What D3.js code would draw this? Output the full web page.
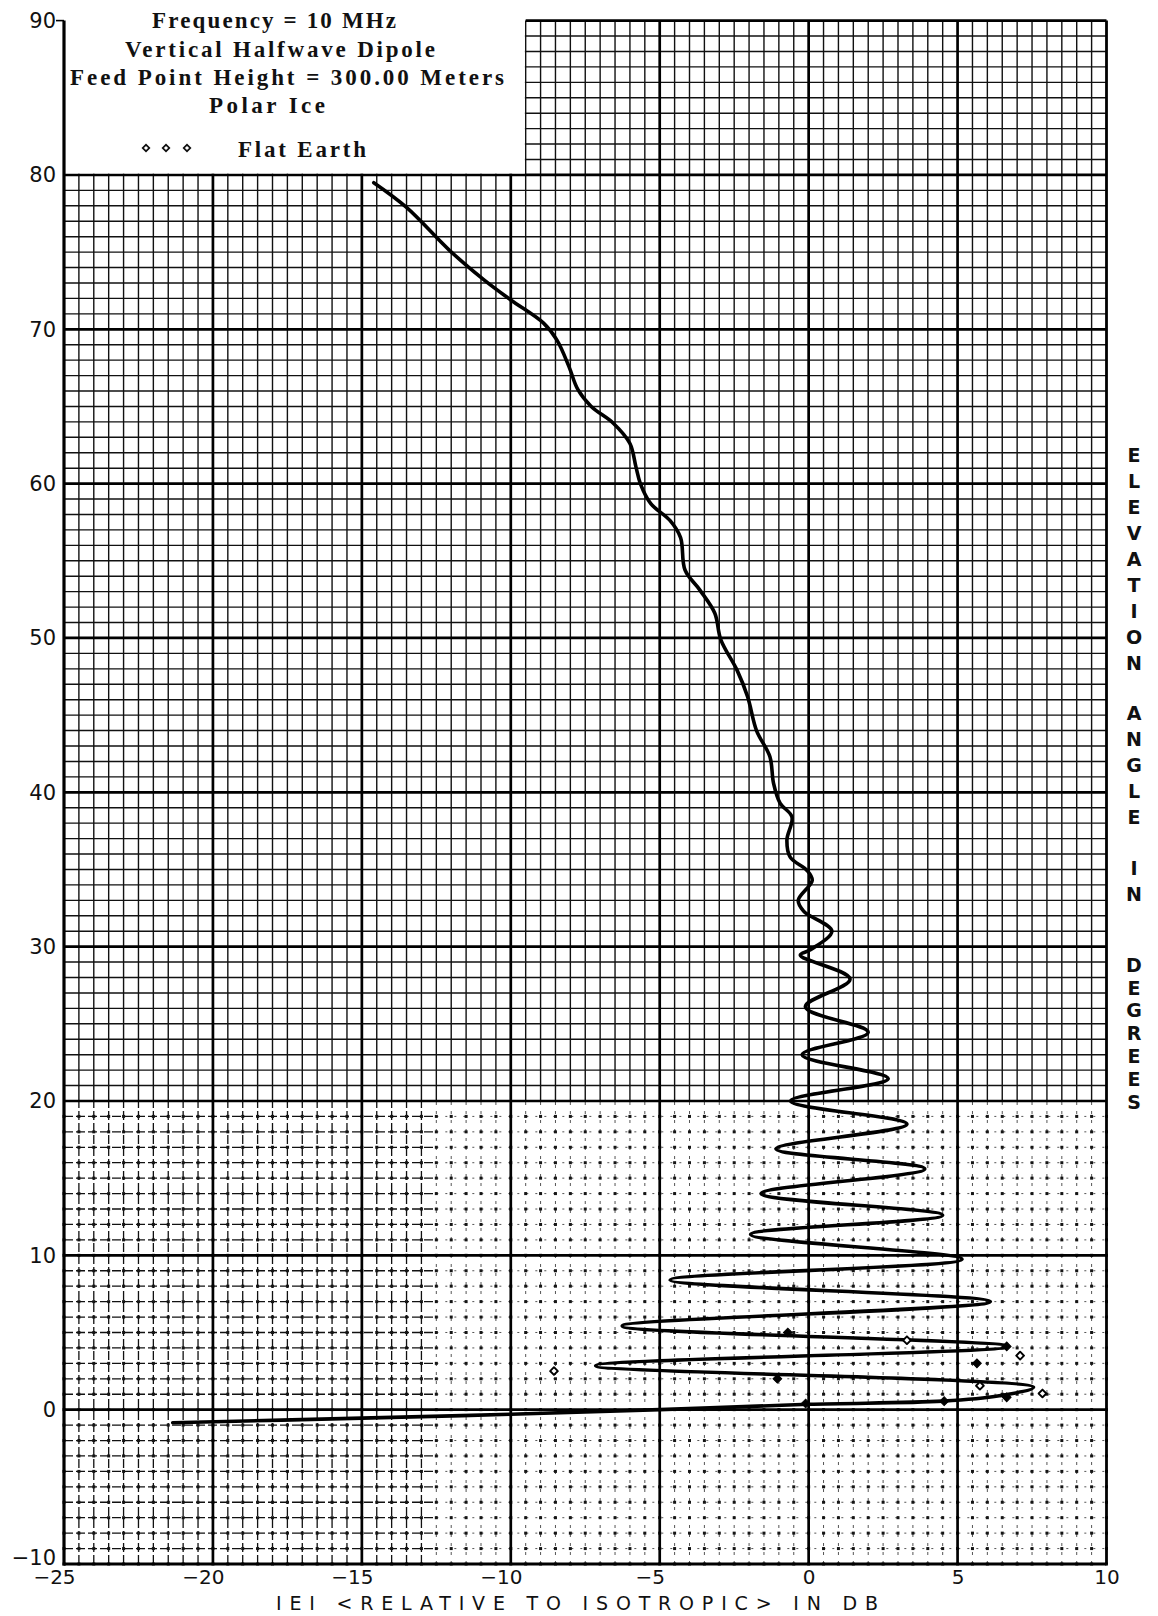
<!DOCTYPE html>
<html><head><meta charset="utf-8">
<script src="https://cdn.jsdelivr.net/npm/d3@7"></script>
<style>html,body{margin:0;padding:0;background:#fff}svg{display:block}</style>
</head><body>
<svg id="chart" width="1158" height="1616"></svg>
<script>
// ---------------- data ----------------
const xTicks = [-25, -20, -15, -10, -5, 0, 5, 10];
const xTickLabels = ["\u221225", "\u221220", "\u221215", "\u221210", "\u22125", "0", "5", "10"];
const yTicks = [90, 80, 70, 60, 50, 40, 30, 20, 10, 0, -10];
const yTickLabels = ["90", "80", "70", "60", "50", "40", "30", "20", "10", "0", "\u221210"];
const titleLines = ["Frequency = 10 MHz", "Vertical Halfwave Dipole", "Feed Point Height = 300.00 Meters", "Polar Ice"];
const legendLabel = "Flat Earth";
const xAxisTitle = "IEI <RELATIVE TO ISOTROPIC> IN DB";
const yAxisTitle = "ELEVATION ANGLE IN DEGREES";

// computed pattern |E| (dB) and elevation angle (deg), in drawing order
const curveGain = [-14.6, -13.5, -12.05, -10.9, -10.0, -8.9, -8.45, -8.05, -7.75, -7.3, -6.55, -6.0, -5.8, -5.65,
  -5.3, -4.65, -4.3, -4.15, -3.65, -3.15, -2.95, -2.4, -2.05, -1.75, -1.3, -1.18, -0.96, -0.56, -0.73, -0.62,
  -0.06, 0.12, -0.35, -0.17, 0.78, 0.06, -0.28, 1.39, -0.11, 2.0, -0.22, 2.67, -0.61,
  3.3, -1.1, 3.9, -1.6, 4.5, -1.95, 5.15, -4.65, 6.1, -6.26, 6.7, -7.15, 7.55,
  6.4, 4.5, 0.0, -5.0, -10.0, -15.0, -21.35];
const curveElev = [79.5, 77.9, 75.1, 73.2, 71.9, 70.4, 69.3, 67.6, 66.1, 65.0, 63.9, 62.6, 61.1, 60.0,
  58.7, 57.6, 56.5, 54.4, 53.1, 51.6, 49.9, 47.9, 46.2, 44.0, 42.3, 40.6, 39.3, 38.4, 36.9, 35.8,
  34.95, 34.3, 33.0, 32.3, 31.0, 29.8, 29.45, 27.9, 26.1, 24.45, 23.0, 21.45, 20.0,
  18.5, 16.9, 15.6, 14.0, 12.6, 11.35, 9.75, 8.4, 7.0, 5.42, 4.1, 2.85, 1.45,
  0.9, 0.55, 0.35, 0.0, -0.3, -0.55, -0.85];

// flat earth points (hollow and overprinted/filled)
const flatOpenGain = [-8.55, 3.3, 7.1, 5.75, 7.85];
const flatOpenElev = [2.5, 4.5, 3.5, 1.55, 1.05];
const flatFilledGain = [-0.7, -1.05, 6.65, 5.65, 6.65, 4.55, -0.1];
const flatFilledElev = [5.0, 2.0, 4.1, 3.0, 0.8, 0.55, 0.4];

// ---------------- setup ----------------
const svg = d3.select("#chart");
const x = d3.scaleLinear().domain([-25, 10]).range([64, 1106.5]);
const y = d3.scaleLinear().domain([-10, 90]).range([1564, 20.6]);
const X0 = x(-25), X1 = x(10), Y0 = y(-10), Y1 = y(90);

const minorX = d3.range(-25, 10.0001, 0.5).map(v => +v.toFixed(2));
const minorY = d3.range(-10, 90.0001, 1);
const isMajX = v => Math.abs(v % 5) < 1e-6;
const isMajY = v => Math.abs(v % 10) < 1e-6;
const ySplit = 20;     // below this elevation the paper ruling is dotted
const xSplit = -12.5;  // left of this the dotted ruling is darker

const grid = svg.append("g");

// upper solid minor lines
grid.selectAll(".vu").data(minorX.filter(v => !isMajX(v))).join("line")
  .attr("x1", d => x(d)).attr("x2", d => x(d)).attr("y1", y(ySplit)).attr("y2", Y1)
  .attr("stroke", "#111").attr("stroke-width", 1.4);
grid.selectAll(".hu").data(minorY.filter(v => v > ySplit && !isMajY(v))).join("line")
  .attr("x1", X0).attr("x2", X1).attr("y1", d => y(d)).attr("y2", d => y(d))
  .attr("stroke", "#111").attr("stroke-width", 1.4);

// lower dotted minor lines
grid.selectAll(".vl").data(minorX.filter(v => !isMajX(v))).join("line")
  .attr("x1", d => x(d)).attr("x2", d => x(d)).attr("y1", Y0).attr("y2", y(ySplit))
  .attr("stroke", d => d < xSplit ? "#111" : "#555")
  .attr("stroke-width", d => d < xSplit ? 1.3 : 1.0)
  .attr("stroke-dasharray", d => d < xSplit ? "9,3" : "3,6");
const lowH = minorY.filter(v => v < ySplit && !isMajY(v));
grid.selectAll(".hl1").data(lowH).join("line")
  .attr("x1", X0).attr("x2", x(xSplit)).attr("y1", d => y(d)).attr("y2", d => y(d))
  .attr("stroke", "#111").attr("stroke-width", 1.3).attr("stroke-dasharray", "9,3");
grid.selectAll(".hl2").data(lowH).join("line")
  .attr("x1", x(xSplit)).attr("x2", X1).attr("y1", d => y(d)).attr("y2", d => y(d))
  .attr("stroke", "#555").attr("stroke-width", 1.0).attr("stroke-dasharray", "2,7");
// intersection dots
const dots = [];
minorX.forEach(a => minorY.filter(b => b < ySplit).forEach(b => dots.push([a, b])));
grid.selectAll(".dot").data(dots).join("rect")
  .attr("x", d => x(d[0]) - 1.5).attr("y", d => y(d[1]) - 1.5)
  .attr("width", 3).attr("height", 3).attr("fill", "#151515");

// major lines
grid.selectAll(".vm").data(xTicks.filter(v => v > -25 && v < 10)).join("line")
  .attr("x1", d => x(d)).attr("x2", d => x(d)).attr("y1", Y0).attr("y2", Y1)
  .attr("stroke", "#000").attr("stroke-width", 2.7);
grid.selectAll(".hm").data(yTicks.filter(v => v > -10 && v < 90)).join("line")
  .attr("x1", X0).attr("x2", X1).attr("y1", d => y(d)).attr("y2", d => y(d))
  .attr("stroke", "#000").attr("stroke-width", 2.7);

// legend box (blank paper area top-left)
svg.append("rect").attr("x", X0 + 1).attr("y", 0)
  .attr("width", x(-9.5) - X0 - 1.8).attr("height", y(80) - 1.4)
  .attr("fill", "#fff");

// borders
svg.append("line").attr("x1", X0).attr("x2", X0).attr("y1", Y1).attr("y2", Y0 + 1.5)
  .attr("stroke", "#000").attr("stroke-width", 3.2);
svg.append("line").attr("x1", X0 - 8).attr("x2", X0).attr("y1", Y1).attr("y2", Y1)
  .attr("stroke", "#000").attr("stroke-width", 1.6);
svg.append("line").attr("x1", X0).attr("x2", X1).attr("y1", Y0).attr("y2", Y0)
  .attr("stroke", "#000").attr("stroke-width", 3.2);
svg.append("line").attr("x1", X1).attr("x2", X1).attr("y1", Y1).attr("y2", Y0)
  .attr("stroke", "#000").attr("stroke-width", 2.8);
svg.append("line").attr("x1", x(-9.5)).attr("x2", X1).attr("y1", Y1).attr("y2", Y1)
  .attr("stroke", "#000").attr("stroke-width", 2.8);

// ---------------- axes labels ----------------
const axL = svg.append("g").attr("transform", `translate(${X0 - 6},0)`)
  .call(d3.axisLeft(y).tickValues(yTicks).tickSize(0).tickPadding(2)
    .tickFormat(d => yTickLabels[yTicks.indexOf(d)]));
axL.select(".domain").remove();
axL.selectAll("text").attr("font-family", "DejaVu Sans, sans-serif").attr("font-size", 21)
  .attr("fill", "#111").attr("dy", d => d === -10 ? "0.0em" : "0.32em");

const axB = svg.append("g").attr("transform", `translate(0,${Y0 + 3})`)
  .call(d3.axisBottom(x).tickValues(xTicks).tickSize(0).tickPadding(3)
    .tickFormat(d => xTickLabels[xTicks.indexOf(d)]));
axB.select(".domain").remove();
axB.selectAll("text").attr("font-family", "DejaVu Sans, sans-serif").attr("font-size", 20)
  .attr("fill", "#111").attr("dx", d => d < 0 ? -10 : 0);

svg.append("text").attr("x", 276).attr("y", 1610)
  .attr("textLength", 602).attr("lengthAdjust", "spacing")
  .attr("font-family", "DejaVu Sans, sans-serif").attr("font-size", 19).attr("fill", "#111")
  .text(xAxisTitle);

// vertical stacked title on the right
const words = yAxisTitle.split(" ");
const wordStart = [455, 713, 868, 965];
const wordPitch = [26, 26, 26, 22.8];
words.forEach((w, wi) => {
  svg.append("g").selectAll("text").data(w.split("")).join("text")
    .attr("x", 1134).attr("y", (d, i) => wordStart[wi] + i * wordPitch[wi])
    .attr("dy", "0.36em").attr("text-anchor", "middle")
    .attr("font-family", "DejaVu Sans, sans-serif").attr("font-weight", "bold")
    .attr("font-size", 19).attr("fill", "#111").text(d => d);
});

// ---------------- legend text ----------------
const titleX = [152, 125, 70, 209];
const titleW = [244, 310, 434, 116];
const titleY = [28, 57, 85, 113];
svg.append("g").selectAll("text").data(titleLines).join("text")
  .attr("x", (d, i) => titleX[i]).attr("y", (d, i) => titleY[i])
  .attr("textLength", (d, i) => titleW[i]).attr("lengthAdjust", "spacing")
  .attr("font-family", "Liberation Serif, DejaVu Serif, serif").attr("font-weight", "bold")
  .attr("font-size", 23).attr("fill", "#111").text(d => d);
svg.append("text").attr("x", 238).attr("y", 157).attr("textLength", 128).attr("lengthAdjust", "spacing")
  .attr("font-family", "Liberation Serif, DejaVu Serif, serif").attr("font-weight", "bold")
  .attr("font-size", 23).attr("fill", "#111").text(legendLabel);
const diamond = d3.symbol(d3.symbolSquare, 22)();
svg.append("g").selectAll("path").data([146, 166, 187]).join("path")
  .attr("transform", d => `translate(${d},148) rotate(45)`)
  .attr("d", diamond)
  .attr("fill", "#fff").attr("stroke", "#111").attr("stroke-width", 1.7);

// ---------------- curve ----------------
const pts = curveGain.map((g, i) => [g, curveElev[i]]);
svg.append("path").datum(pts)
  .attr("d", d3.line().x(d => x(d[0])).y(d => y(d[1])).curve(d3.curveCatmullRom.alpha(0.5)))
  .attr("fill", "none").attr("stroke", "#000").attr("stroke-width", 3.6)
  .attr("stroke-linejoin", "round").attr("stroke-linecap", "round");

// ---------------- flat earth markers ----------------
svg.append("g").selectAll("path").data(flatOpenGain.map((g, i) => [g, flatOpenElev[i]])).join("path")
  .attr("transform", d => `translate(${x(d[0])},${y(d[1])}) rotate(45)`)
  .attr("d", d3.symbol(d3.symbolSquare, 30)())
  .attr("fill", "#fff").attr("stroke", "#000").attr("stroke-width", 1.9)
  .attr("stroke-linejoin", "round");
svg.append("g").selectAll("path").data(flatFilledGain.map((g, i) => [g, flatFilledElev[i]])).join("path")
  .attr("transform", d => `translate(${x(d[0])},${y(d[1])}) rotate(45)`)
  .attr("d", d3.symbol(d3.symbolSquare, 38)())
  .attr("fill", "#000").attr("stroke", "#000").attr("stroke-width", 1);
</script>
</body></html>
